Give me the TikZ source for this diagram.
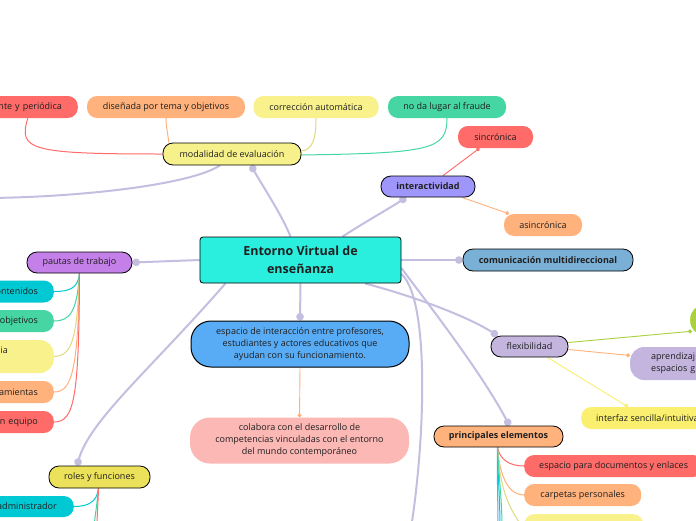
\documentclass[tikz,border=0pt]{standalone}
\usepackage{fontspec}
\setmainfont{Open Sans}
\usetikzlibrary{arrows.meta,backgrounds}
\definecolor{txt}{HTML}{1F1F1F}
\definecolor{lav}{HTML}{C4BFE0}
\definecolor{cTurq}{HTML}{2AEFDF}
\definecolor{cModal}{HTML}{F7F18C}
\definecolor{cRed}{HTML}{FF6B68}
\definecolor{cOrange}{HTML}{FFB27C}
\definecolor{cYellow}{HTML}{F9F28C}
\definecolor{cGreen}{HTML}{45D6A3}
\definecolor{cInter}{HTML}{9E96FA}
\definecolor{cComun}{HTML}{7AAFD6}
\definecolor{cPautas}{HTML}{C47FE8}
\definecolor{cCyan}{HTML}{00C9D3}
\definecolor{cBlue}{HTML}{58ABF5}
\definecolor{cPink}{HTML}{FBB8B4}
\definecolor{cFlex}{HTML}{C3B5DE}
\definecolor{cYel2}{HTML}{FAEF6E}
\definecolor{cRoles}{HTML}{ECE15B}
\definecolor{cLime}{HTML}{A8D23C}
\newcommand\mmfs{\fontsize{9}{12}\selectfont}
\newcommand\mmfsb{\fontsize{9}{12}\selectfont\bfseries}
\tikzset{
  mmbase/.style={inner sep=0pt, font=\mmfs, text=txt, align=center},
  pill/.style={mmbase, rounded corners=10pt, minimum height=22pt},
  mainpill/.style={pill, draw=black, line width=0.8pt},
  bigpill/.style={mmbase, rounded corners=20pt, minimum height=46pt},
  rpill/.style={pill, text width=100pt, align=right, inner xsep=16pt, anchor=east},
  lpill/.style={pill, anchor=west, inner xsep=15pt},
  conn/.style={draw=lav, line width=2pt, -{Circle[length=7.5pt,width=7.5pt]}},
  plainconn/.style={draw=lav, line width=2pt},
  lnthin/.style={line width=1pt},
  lndot/.style={line width=0.9pt, -{Circle[length=4pt,width=4pt]}},
}
\begin{document}
\begin{tikzpicture}[x=1pt,y=-1pt]
\useasboundingbox (0,0) rectangle (696,520);
\clip (0,0) rectangle (696,520);
% central
\node[mmbase, fill=cTurq, draw=black, line width=0.8pt, rounded corners=3pt,
  minimum width=201pt, minimum height=46pt, font=\fontsize{12.5}{18.5}\selectfont\bfseries]
  (central) at (300.5,260) {Entorno Virtual de\\enseñanza};
% modalidad
\node[mainpill, fill=cModal, minimum width=138pt] (modal) at (232,154) {modalidad de evaluación};
\node[rpill, fill=cRed] (redtop) at (78,107) {nte y periódica};
\node[pill, fill=cOrange, minimum width=158pt] (dis) at (166,107) {diseñada por tema y objetivos};
\node[pill, fill=cYellow, minimum width=125pt] (corr) at (316,107) {corrección automática};
\node[pill, fill=cGreen, minimum width=118pt] (noda) at (447,107) {no da lugar al fraude};
\coordinate (offL) at (-10,198);
% interactividad
\node[mainpill, fill=cInter, minimum width=94pt, minimum height=21pt, font=\mmfsb] (inter) at (428,186.5) {interactividad};
\node[pill, fill=cRed, minimum width=75pt] (sinc) at (495.5,137) {sincrónica};
\node[pill, fill=cOrange, minimum width=78pt] (asinc) at (543,225) {asincrónica};
% comunicacion
\node[mainpill, fill=cComun, minimum width=170pt, font=\mmfsb] (comun) at (548,260) {comunicación multidireccional};
% pautas
\node[mainpill, fill=cPautas, minimum width=105pt, minimum height=21pt] (pautas) at (79.5,262.5) {pautas de trabajo};
\node[rpill, fill=cCyan] (pc1) at (54,291.5) {ontenidos};
\node[rpill, fill=cGreen] (pc2) at (54,321) {objetivos};
\node[rpill, fill=cYellow, inner xsep=46pt, minimum height=33pt, rounded corners=14pt] (pc3) at (54,356.5) {ia\\\phantom{ia}};
\node[rpill, fill=cOrange] (pc4) at (54,392) {amientas};
\node[rpill, fill=cRed] (pc5) at (54,422) {en equipo};
% espacio
\node[bigpill, fill=cBlue, draw=black, line width=1pt, minimum width=218pt] (esp) at (300,344)
  {espacio de interacción entre profesores,\\estudiantes y actores educativos que\\ayudan con su funcionamiento.};
\node[bigpill, fill=cPink, minimum width=219pt] (colab) at (299.5,440.5)
  {colabora con el desarrollo de\\competencias vinculadas con el entorno\\del mundo contemporáneo};
% flexibilidad
\node[mainpill, fill=cFlex, minimum width=77pt, minimum height=21pt] (flex) at (529.5,346.5) {flexibilidad};
\node[pill, fill=cLime, anchor=west, minimum width=60pt, minimum height=30pt, rounded corners=14pt] (lime) at (690,320) {};
\node[pill, fill=cFlex, anchor=west, text width=100pt, align=left, inner xsep=21pt, minimum height=33pt, rounded corners=14pt] (aprend) at (630,363.5) {aprendizaj\\espacios g};
\node[lpill, fill=cYel2] (interfaz) at (581,418) {interfaz sencilla/intuitiva};
% principales
\node[mainpill, fill=cOrange, minimum width=129pt, minimum height=21pt, font=\mmfsb] (princ) at (498.5,436.5) {principales elementos};
\node[lpill, fill=cRed] (docs) at (524,466) {espacio para documentos y enlaces};
\node[lpill, fill=cOrange, minimum width=117pt] (carp) at (524,495) {carpetas personales};
\node[pill, fill=cYellow, anchor=north west, minimum width=119pt] (ybot) at (524,514) {};
\coordinate (offB) at (411,528);
\coordinate (pb1) at (498,528);
\coordinate (pb2) at (500,528);
\coordinate (pb3) at (502,528);
% roles
\node[mainpill, fill=cRoles, minimum width=101pt] (roles) at (99.5,477) {roles y funciones};
\node[rpill, fill=cCyan, inner xsep=17pt, minimum height=21pt] (admin) at (74,506.5) {administrador};
\coordinate (rb1) at (94,528);
\coordinate (rb2) at (97,528);

\begin{scope}[on background layer]
\fill[white] (0,0) rectangle (696,520);
% main connectors
\draw[conn] ([xshift=-10pt]central.north) .. controls (282,215) and (262,185) .. ([xshift=19pt]modal.south);
\draw[plainconn] ([xshift=-12pt]modal.south) .. controls (190,185) and (80,197) .. (offL);
\draw[conn] ([xshift=42pt]central.north) .. controls (365,222) and (390,208) .. ([xshift=-22pt]inter.south);
\draw[conn] (central.east) -- (comun.west);
\draw[conn] (central.west) -- (pautas.east);
\draw[conn] (central.south) -- (esp.north);
\draw[conn] ([xshift=64.5pt]central.south) .. controls (420,298) and (470,318) .. ([xshift=-32pt]flex.north);
\draw[conn] ([yshift=-8pt]central.east) .. controls (425,300) and (480,370) .. ([xshift=11pt]princ.north);
\draw[plainconn] ([yshift=-14pt]central.east) .. controls (430,300) and (425,440) .. (offB);
\draw[conn] ([xshift=-75pt]central.south) .. controls (150,370) and (90,420) .. ([xshift=-22.5pt]roles.north);
% modalidad children
\draw[lnthin, cRed] (modal.west) .. controls (30,154) and (18,150) .. ([xshift=16pt]redtop.south);
\draw[lnthin, cOrange] ([xshift=-63pt]modal.north) .. controls (167,130) and (166,125) .. (dis.south);
\draw[lnthin, cYellow!90!black] ([yshift=3pt]modal.east) .. controls (312,150) and (316,140) .. (corr.south);
\draw[lnthin, cGreen] ([yshift=-1pt]modal.east) .. controls (430,153) and (447,150) .. (noda.south);
% interactividad children
\draw[lndot, cRed] ([xshift=15pt]inter.north) -- ([xshift=-16pt]sinc.south);
\draw[lndot, cOrange] ([xshift=34pt]inter.south) -- ([xshift=-34pt]asinc.north);
% espacio child
\draw[lndot, cOrange] (esp.south) -- (colab.north);
% flexibilidad children
\draw[lndot, cLime] ([yshift=4pt]flex.east) -- ([xshift=2pt,yshift=4pt]lime.south west);
\draw[lndot, cOrange] ([yshift=-3pt]flex.east) -- ([yshift=8pt]aprend.west);
\draw[lndot, cYel2] ([xshift=18pt]flex.south) -- ([xshift=47pt]interfaz.north west);
% pautas children
\draw[lnthin, cCyan] (pautas.south) .. controls (78,288) and (70,291.5) .. (pc1.east);
\draw[lnthin, cGreen] (pautas.south) .. controls (77,312) and (70,321) .. (pc2.east);
\draw[lnthin, cYellow!90!black] (pautas.south) .. controls (77,340) and (72,356) .. (pc3.east);
\draw[lnthin, cOrange] (pautas.south) .. controls (78,370) and (72,392) .. (pc4.east);
\draw[lnthin, cRed] (pautas.south) .. controls (79,400) and (74,422) .. (pc5.east);
% principales children
\draw[lnthin, cRed] ([xshift=-1pt]princ.south) .. controls (500,460) and (510,466) .. (docs.west);
\draw[lnthin, cOrange] ([xshift=-1pt]princ.south) .. controls (500,480) and (510,495) .. (carp.west);
\draw[lnthin, cYellow!90!black] ([xshift=-1pt]princ.south) .. controls (500,495) and (512,512) .. ([yshift=-4pt]ybot.west);
\draw[lnthin, cBlue] ([xshift=-1pt]princ.south) .. controls (497,480) and (498,500) .. (pb1);
\draw[lnthin, cCyan] ([xshift=-1pt]princ.south) .. controls (498,480) and (500,500) .. (pb2);
\draw[lnthin, cGreen] ([xshift=-1pt]princ.south) .. controls (499,480) and (502,500) .. (pb3);
% roles children
\draw[lnthin, cCyan] ([xshift=-1pt]roles.south) .. controls (97,502) and (88,506.5) .. (admin.east);
\draw[lnthin, cGreen] ([xshift=-1pt]roles.south) .. controls (97,505) and (95,515) .. (rb1);
\draw[lnthin, cRed] ([xshift=-1pt]roles.south) .. controls (98,505) and (97,515) .. (rb2);
\end{scope}
\end{tikzpicture}
\end{document}
